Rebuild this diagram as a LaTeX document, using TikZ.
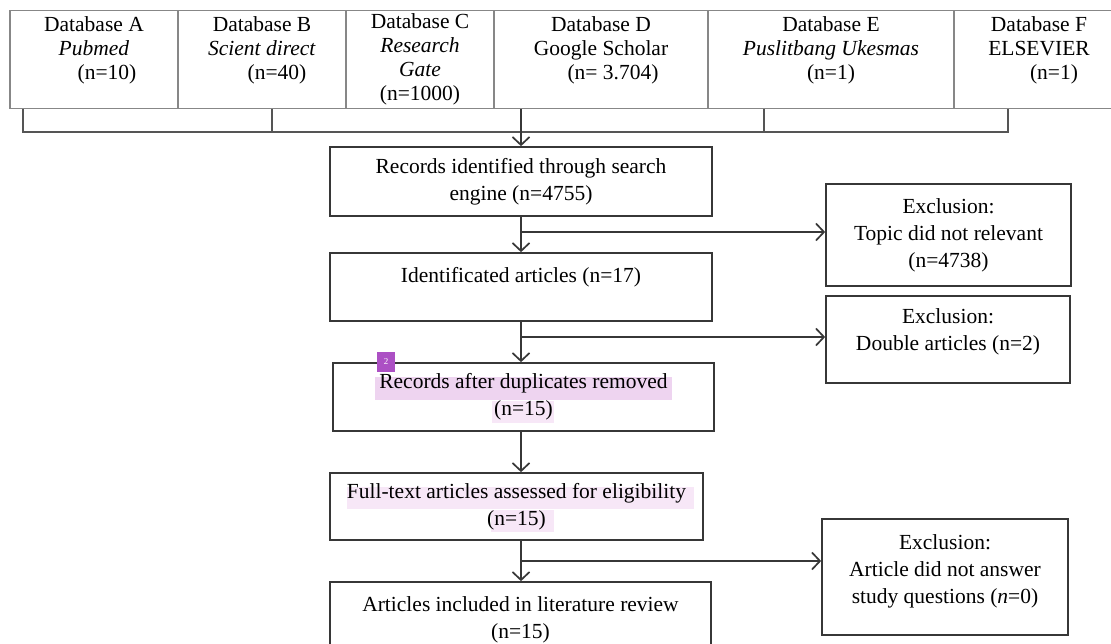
\documentclass[tikz,border=0pt]{standalone}
\usepackage{fontspec}
\setmainfont{Liberation Serif}
\usetikzlibrary{arrows.meta}
\definecolor{linegray}{RGB}{55,55,55}
\definecolor{boxgray}{RGB}{135,135,135}
\definecolor{hlpink}{RGB}{238,212,240}
\definecolor{hllight}{RGB}{247,231,247}
\definecolor{notepurple}{RGB}{172,80,196}
\tikzset{
  dbbox/.style={draw=boxgray, line width=1.4pt, anchor=north, minimum height=98pt,
    inner sep=0pt, align=center, font=\fontsize{21.5}{24}\selectfont},
  mainbox/.style={draw=linegray, line width=1.7pt, inner sep=0pt, align=center,
    font=\fontsize{21.5}{27}\selectfont},
  arr/.style={draw=linegray, line width=1.7pt, -{Straight Barb[length=8pt,width=17pt]}},
  brk/.style={draw=linegray!85, line width=1.8pt},
  notemark/.style={fill=notepurple, text=white, minimum width=18pt, minimum height=20pt,
    inner sep=0pt, font=\fontsize{9}{9}\selectfont}
}
\begin{document}
\begin{tikzpicture}[x=1pt,y=-1pt]
\useasboundingbox (0,0) rectangle (1111,644);
\clip (0,0) rectangle (1111,644);
\fill[white] (0,0) rectangle (1111,644);

\fill[hlpink] (375,377) rectangle (672,400);
\fill[hllight] (492,401) rectangle (554,423);
\fill[hllight] (347,487) rectangle (694,509);
\fill[hllight] (491,510) rectangle (554,532);

\node[dbbox, minimum width=168pt] (dbA) at (94,10) {Database A\\\textit{Pubmed}\\\hspace*{26pt}(n=10)\\\mbox{}};
\node[dbbox, minimum width=168pt] (dbB) at (262,10) {Database B\\\textit{Scient direct}\\\hspace*{30pt}(n=40)\\\mbox{}};
\node[dbbox, minimum width=148pt] (dbC) at (420,10) {Database C\\\textit{Research}\\\textit{Gate}\\(n=1000)};
\node[dbbox, minimum width=214pt] (dbD) at (601,10) {Database D\\Google Scholar\\\hspace*{24pt}(n= 3.704)\\\mbox{}};
\node[dbbox, minimum width=246pt] (dbE) at (831,10) {Database E\\\textit{Puslitbang Ukesmas}\\(n=1)\\\mbox{}};
\node[dbbox, minimum width=170pt] (dbF) at (1039,10) {Database F\\ELSEVIER\\\hspace*{30pt}(n=1)\\\mbox{}};

\coordinate (jL) at (23,132);
\coordinate (jB) at (272,132);
\coordinate (jE) at (764,132);
\coordinate (jR) at (1008,132);
\draw[brk] (dbA.south -| jL) -- (jL) -- (jR) -- (dbF.south -| jR);
\draw[brk] (dbB.south -| jB) -- (jB);
\draw[brk] (dbE.south -| jE) -- (jE);

\node[mainbox, minimum width=382pt, minimum height=69pt] (rec) at (521,181.5) {Records identified through search\\engine (n=4755)};
\node[mainbox, minimum width=382pt, minimum height=68pt, text depth=25pt] (ident) at (521,287) {Identificated articles (n=17)};
\node[mainbox, minimum width=381pt, minimum height=68pt] (dup) at (523.5,397) {Records after duplicates removed\\(n=15)};
\node[mainbox, minimum width=373pt, minimum height=67pt] (full) at (516.5,506.5) {Full-text articles assessed for eligibility\\(n=15)};
\node[mainbox, minimum width=381pt, minimum height=76pt] (incl) at (520.5,620) {Articles included in literature review\\(n=15)};

\node[mainbox, minimum width=245pt, minimum height=102pt] (excl1) at (948.5,235) {Exclusion:\\Topic did not relevant\\(n=4738)};
\node[mainbox, minimum width=244pt, minimum height=87pt, text depth=19pt] (excl2) at (948,339.5) {Exclusion:\\Double articles (n=2)};
\node[mainbox, minimum width=246pt, minimum height=116pt, text depth=15pt] (excl3) at (945,577) {Exclusion:\\Article did not answer\\study questions (\textit{n}=0)};

\node[notemark] (note) at (386,362) {2};

\draw[arr] (dbD.south -| rec.north) -- (rec.north);
\draw[arr] (rec.south) -- (ident.north);
\draw[arr] (ident.south) -- (dup.north -| ident.south);
\draw[arr] (dup.south -| ident.south) -- (full.north -| ident.south);
\draw[arr] (full.south -| ident.south) -- (incl.north -| ident.south);

\coordinate (br1) at (521,232);
\coordinate (br2) at (521,337);
\coordinate (br3) at (521,561);
\draw[arr] (br1) -- (br1 -| excl1.west);
\draw[arr] (br2) -- (br2 -| excl2.west);
\draw[arr] (br3) -- (br3 -| excl3.west);
\end{tikzpicture}
\end{document}
